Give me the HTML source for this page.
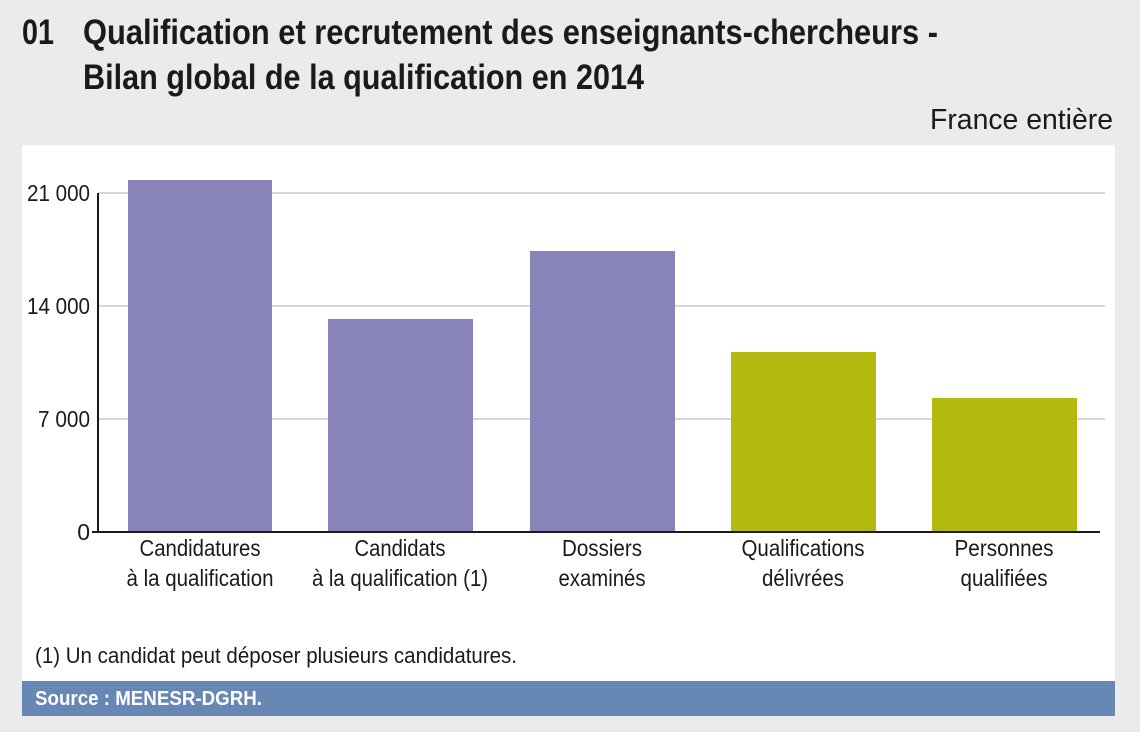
<!DOCTYPE html>
<html><head><meta charset="utf-8"><style>
html,body{margin:0;padding:0;background:#ebebeb;}
svg{display:block;}
text{font-family:"Liberation Sans Narrow","Liberation Sans",sans-serif;}
</style></head><body>
<svg width="1140" height="732" viewBox="0 0 1140 732" xmlns="http://www.w3.org/2000/svg">
<rect width="1140" height="732" fill="#ebebeb"/>
<text x="22" y="44" font-size="35" font-weight="bold" fill="#1a1a1a" textLength="32" lengthAdjust="spacingAndGlyphs">01</text>
<text x="83" y="44" font-size="35" font-weight="bold" fill="#1a1a1a" textLength="855" lengthAdjust="spacingAndGlyphs">Qualification et recrutement des enseignants-chercheurs -</text>
<text x="83" y="89" font-size="35" font-weight="bold" fill="#1a1a1a" textLength="561" lengthAdjust="spacingAndGlyphs">Bilan global de la qualification en 2014</text>
<text x="930" y="129" font-size="29" fill="#1a1a1a" textLength="183" lengthAdjust="spacingAndGlyphs">France entière</text>
<rect x="22" y="145" width="1093" height="537" fill="#fff"/>
<g stroke="#c8c8c8" stroke-width="1.5">
<line x1="98" y1="193" x2="1105" y2="193"/>
<line x1="98" y1="306" x2="1105" y2="306"/>
<line x1="98" y1="419" x2="1105" y2="419"/>
</g>
<g fill="#8884b9">
<rect x="128" y="180" width="144" height="352"/>
<rect x="328" y="319" width="145" height="213"/>
<rect x="530" y="251" width="145" height="281"/>
</g>
<g fill="#b3b90f">
<rect x="731" y="352" width="145" height="180"/>
<rect x="932" y="398" width="145" height="134"/>
</g>
<g stroke="#1a1a1a" stroke-width="2">
<line x1="98" y1="193" x2="98" y2="533"/>
<line x1="92" y1="532" x2="1100" y2="532"/>
</g>
<g font-size="23" fill="#1a1a1a" text-anchor="end" lengthAdjust="spacingAndGlyphs">
<text x="90" y="201" textLength="63" lengthAdjust="spacingAndGlyphs">21 000</text>
<text x="90" y="314" textLength="63" lengthAdjust="spacingAndGlyphs">14 000</text>
<text x="90" y="427" textLength="52" lengthAdjust="spacingAndGlyphs">7 000</text>
<text x="90" y="540">0</text>
</g>
<g font-size="23" fill="#1a1a1a" text-anchor="middle">
<text x="200" y="556" textLength="121" lengthAdjust="spacingAndGlyphs">Candidatures</text><text x="200" y="586" textLength="147" lengthAdjust="spacingAndGlyphs">à la qualification</text>
<text x="400" y="556" textLength="91" lengthAdjust="spacingAndGlyphs">Candidats</text><text x="400" y="586" textLength="176" lengthAdjust="spacingAndGlyphs">à la qualification (1)</text>
<text x="602" y="556" textLength="80" lengthAdjust="spacingAndGlyphs">Dossiers</text><text x="602" y="586" textLength="87" lengthAdjust="spacingAndGlyphs">examinés</text>
<text x="803" y="556" textLength="123" lengthAdjust="spacingAndGlyphs">Qualifications</text><text x="803" y="586" textLength="82" lengthAdjust="spacingAndGlyphs">délivrées</text>
<text x="1004" y="556" textLength="99" lengthAdjust="spacingAndGlyphs">Personnes</text><text x="1004" y="586" textLength="87" lengthAdjust="spacingAndGlyphs">qualifiées</text>
</g>
<text x="35" y="663" font-size="22" fill="#1a1a1a" textLength="482" lengthAdjust="spacingAndGlyphs">(1) Un candidat peut déposer plusieurs candidatures.</text>
<rect x="22" y="681" width="1093" height="35" fill="#6787b5"/>
<text x="35" y="705" font-size="20" font-weight="bold" fill="#fff" textLength="227" lengthAdjust="spacingAndGlyphs">Source : MENESR-DGRH.</text>
</svg>
</body></html>
